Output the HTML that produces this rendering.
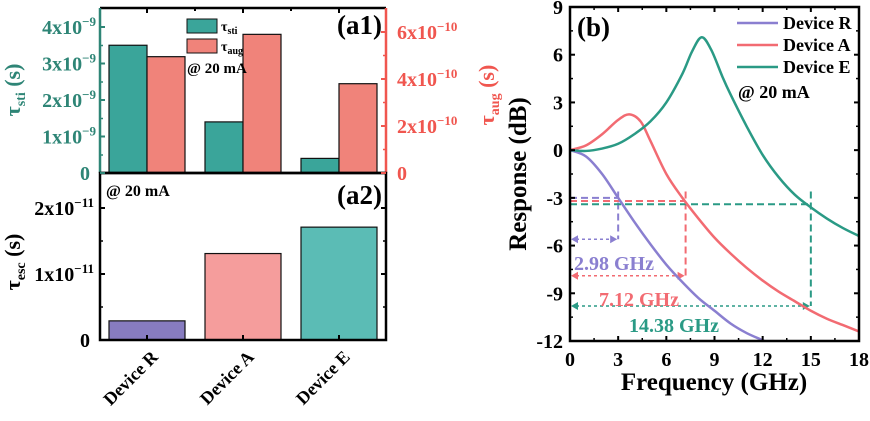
<!DOCTYPE html>
<html><head><meta charset="utf-8"><style>
html,body{margin:0;padding:0;background:#fff;}
svg{display:block;font-family:"Liberation Serif",serif;font-weight:bold;}
</style></head><body>
<svg id="fig" width="870" height="421" viewBox="0 0 870 421" xmlns="http://www.w3.org/2000/svg">
<g id="left"></g><g id="right"></g>
</svg>
<script>
// ----- data -----
const categories = ["Device R","Device A","Device E"];
const tauSti = [3.5e-9, 1.4e-9, 0.4e-9];
const tauAug = [4.95e-10, 5.9e-10, 3.8e-10];
const tauEsc = [0.29e-11, 1.31e-11, 1.71e-11];
const stiTicks = [0,1e-9,2e-9,3e-9,4e-9];
const stiTickLabels = ["0","1x10","2x10","3x10","4x10"];
const augTicks = [0,2e-10,4e-10,6e-10];
const augTickLabels = ["0","2x10","4x10","6x10"];
const escTicks = [0,1e-11,2e-11];
const escTickLabels = ["0","1x10","2x10"];
const freqR = [0,1,2,3,4,5,6,7,8,9,10,11,12,12.3];
const respR = [0,-0.4,-1.5,-3,-4.5,-5.9,-7.2,-8.3,-9.3,-10.1,-10.9,-11.5,-11.95,-12.1];
const freqA = [0,1,2,3,3.7,4.4,5,6,7,8,9,10,11,12,13,14,15,16,17,18];
const respA = [0,0.3,1.0,1.9,2.25,1.8,0.6,-1.5,-3.0,-4.3,-5.5,-6.5,-7.4,-8.2,-8.9,-9.5,-10.1,-10.6,-11.0,-11.4];
const freqE = [0,1,2,3,4,5,6,7,7.6,8.2,8.8,9.5,10,11,12,13,14,15,16,17,18];
const respE = [0,-0.05,0.1,0.4,1.0,1.8,3.0,4.8,6.2,7.1,6.3,4.6,3.5,1.5,-0.3,-1.7,-2.8,-3.6,-4.3,-4.9,-5.4];
const f3dB = [2.98, 7.12, 14.38];
const f3dBPos = [3, 7.2, 15];
const level3dB = [-3.0, -3.2, -3.4];
const arrowLevel = [-5.6, -7.9, -9.8];
const f3dBLabels = ["2.98 GHz","7.12 GHz","14.38 GHz"];
const xTicksB = [0,3,6,9,12,15,18];
const yTicksB = [9,6,3,0,-3,-6,-9,-12];

const NS="http://www.w3.org/2000/svg";
function mk(parent,tag,attrs,text){const e=document.createElementNS(NS,tag);for(const k in attrs)e.setAttribute(k,attrs[k]);if(text!==undefined)e.textContent=text;parent.appendChild(e);return e;}
const L=document.getElementById('left'), R=document.getElementById('right');

// ----- left panels -----
const fx0=100, fx1=386, a1Top=8, a1Bot=173, a2Bot=340;
const catX = i => 147 + i*96;
const yS = v => a1Bot - v/1e-9*36.5;
const yA = v => a1Bot - v/2e-10*47;
const yE = v => a2Bot - v/1e-11*66;
const TEAL="#2e8576", SAL="#f0564f";

categories.forEach((c,i)=>{
  let b=mk(L,'rect',{x:catX(i)-38,y:yS(tauSti[i]),width:38,height:a1Bot-yS(tauSti[i]),fill:"#3aa59a",stroke:"#111","stroke-width":1.2});
  
  b=mk(L,'rect',{x:catX(i),y:yA(tauAug[i]),width:38,height:a1Bot-yA(tauAug[i]),fill:"#f0837a",stroke:"#111","stroke-width":1.2});
  
  const cols=["#877cc0","#f59d9c","#5bbcb5"];
  b=mk(L,'rect',{x:catX(i)-38,y:yE(tauEsc[i]),width:76,height:a2Bot-yE(tauEsc[i]),fill:cols[i],stroke:"#111","stroke-width":1.2});
  
  const t=mk(L,'text',{x:0,y:0,"font-size":18,"text-anchor":"end",transform:`translate(${catX(i)+12},${358}) rotate(-45)`},c);
  
});
// frames
mk(L,'line',{x1:fx0,y1:a1Top,x2:fx1,y2:a1Top,stroke:"#000","stroke-width":2.5});
mk(L,'line',{x1:fx0,y1:a1Bot,x2:fx1,y2:a1Bot,stroke:"#000","stroke-width":2.5});
mk(L,'line',{x1:fx0,y1:a1Top,x2:fx0,y2:a1Bot,stroke:TEAL,"stroke-width":2.5});
mk(L,'line',{x1:fx1,y1:a1Top,x2:fx1,y2:a1Bot,stroke:SAL,"stroke-width":2.5});
mk(L,'rect',{x:fx0,y:a1Bot,width:fx1-fx0,height:a2Bot-a1Bot,fill:"none",stroke:"#000","stroke-width":2.5});
[0,1,2].forEach(i=>{mk(L,'line',{x1:catX(i),y1:a1Top,x2:catX(i),y2:a1Top+5,stroke:"#000","stroke-width":2});
 mk(L,'line',{x1:catX(i),y1:a2Bot,x2:catX(i),y2:a2Bot-5,stroke:"#000","stroke-width":2});});
[195,291].forEach(x=>{mk(L,'line',{x1:x,y1:a1Top,x2:x,y2:a1Top+3,stroke:"#000","stroke-width":2});});
stiTicks.forEach((v,i)=>{const y=yS(v);mk(L,'line',{x1:fx0,y1:y,x2:fx0+5,y2:y,stroke:TEAL,"stroke-width":2});
 if(i<stiTicks.length-1) mk(L,'line',{x1:fx0,y1:y-18,x2:fx0+3,y2:y-18,stroke:TEAL,"stroke-width":1.5});
 const t=mk(L,'text',{x:i?96:90,y:y+7,"font-size":20,fill:TEAL,"text-anchor":"end"},stiTickLabels[i]);
 if(i){mk(t,'tspan',{dy:-8,"font-size":13},"−9");}
});
augTicks.forEach((v,i)=>{const y=yA(v);mk(L,'line',{x1:fx1,y1:y,x2:fx1-5,y2:y,stroke:SAL,"stroke-width":2});
 if(i<augTicks.length-1) mk(L,'line',{x1:fx1,y1:y-23.5,x2:fx1-3,y2:y-23.5,stroke:SAL,"stroke-width":1.5});
 const t=mk(L,'text',{x:397,y:y+7,"font-size":20,fill:SAL},augTickLabels[i]);
 if(i){mk(t,'tspan',{dy:-8,"font-size":13},"−10");}
});
escTicks.forEach((v,i)=>{const y=yE(v);mk(L,'line',{x1:fx0,y1:y,x2:fx0+5,y2:y,stroke:"#000","stroke-width":2});
 mk(L,'line',{x1:fx1,y1:y,x2:fx1-5,y2:y,stroke:"#000","stroke-width":2});
 if(i<2){mk(L,'line',{x1:fx0,y1:y-33,x2:fx0+3,y2:y-33,stroke:"#000","stroke-width":1.5});mk(L,'line',{x1:fx1,y1:y-33,x2:fx1-3,y2:y-33,stroke:"#000","stroke-width":1.5});}
 const t=mk(L,'text',{x:i?94:90,y:y+7,"font-size":20,"text-anchor":"end"},escTickLabels[i]);
 if(i){mk(t,'tspan',{dy:-8,"font-size":13},"−11");}
});
let t=mk(L,'text',{transform:"translate(20,90) rotate(-90)","font-size":22,fill:TEAL,"text-anchor":"middle"});

mk(t,'tspan',{},"τ");mk(t,'tspan',{"font-size":14,dy:5},"sti");mk(t,'tspan',{dy:-5}," (s)");
t=mk(L,'text',{transform:"translate(494,95) rotate(-90)","font-size":22,fill:SAL,"text-anchor":"middle"});

mk(t,'tspan',{},"τ");mk(t,'tspan',{"font-size":14,dy:5},"aug");mk(t,'tspan',{dy:-5}," (s)");
t=mk(L,'text',{transform:"translate(20,262) rotate(-90)","font-size":22,"text-anchor":"middle"});

mk(t,'tspan',{},"τ");mk(t,'tspan',{"font-size":14,dy:5},"esc");mk(t,'tspan',{dy:-5}," (s)");
// legend a1
mk(L,'rect',{x:187,y:19,width:30,height:14,fill:"#3aa59a",stroke:"#111"});
mk(L,'rect',{x:187,y:39,width:30,height:14,fill:"#f0837a",stroke:"#111"});
t=mk(L,'text',{x:221,y:31,"font-size":14});mk(t,'tspan',{},"τ");mk(t,'tspan',{"font-size":10,dy:3},"sti");
t=mk(L,'text',{x:221,y:51,"font-size":14});mk(t,'tspan',{},"τ");mk(t,'tspan',{"font-size":10,dy:3},"aug");
mk(L,'text',{x:187,y:73,"font-size":15},"@ 20 mA");
mk(L,'text',{x:382,y:34,"font-size":27,"text-anchor":"end"},"(a1)");
mk(L,'text',{x:106,y:196,"font-size":16},"@ 20 mA");
mk(L,'text',{x:382,y:204,"font-size":27,"text-anchor":"end"},"(a2)");

// ----- right panel -----
const bx0=570,bx1=859,by0=7,by1=341;
const xB=f=>bx0+f*(bx1-bx0)/18;
const yB=v=>by0+(9-v)*(by1-by0)/21;
const CR="#8a7fd0", CA="#f26b72", CE="#2a9a85";
function smooth(fs,vs){const p=fs.map((f,i)=>[xB(f),yB(vs[i])]);let d=`M${p[0][0]},${p[0][1]}`;
 for(let i=0;i<p.length-1;i++){const p0=p[i-1]||p[i],p1=p[i],p2=p[i+1],p3=p[i+2]||p2;
  d+=` C${p1[0]+(p2[0]-p0[0])/6},${p1[1]+(p2[1]-p0[1])/6} ${p2[0]-(p3[0]-p1[0])/6},${p2[1]-(p3[1]-p1[1])/6} ${p2[0]},${p2[1]}`;}return d;}
mk(R,'defs',{}).innerHTML=`<clipPath id="cb"><rect x="${bx0}" y="${by0}" width="${bx1-bx0}" height="${by1-by0}"/></clipPath>`;
const cg=mk(R,'g',{"clip-path":"url(#cb)"});
const cols=[CR,CA,CE];
[0,1,2].forEach(i=>{
 const c=cols[i], fx=xB(f3dBPos[i]);
 mk(cg,'line',{x1:bx0,y1:yB(level3dB[i]),x2:fx,y2:yB(level3dB[i]),stroke:c,"stroke-width":2,"stroke-dasharray":"7,4"});
 mk(cg,'line',{x1:fx,y1:yB(-2.6),x2:fx,y2:yB(arrowLevel[i]),stroke:c,"stroke-width":2,"stroke-dasharray":"7,4"});
 mk(cg,'line',{x1:bx0+6,y1:yB(arrowLevel[i]),x2:fx-6,y2:yB(arrowLevel[i]),stroke:c,"stroke-width":1.5,"stroke-dasharray":"3,3"});
 const y=yB(arrowLevel[i]);
 mk(cg,'path',{d:`M${bx0+1},${y} l7,-4 v8z M${fx-1},${y} l-7,-4 v8z`,fill:c});
});
[[freqR,respR,CR,'curve-device-r'],[freqA,respA,CA,'curve-device-a'],[freqE,respE,CE,'curve-device-e']].forEach(s=>{
 const p=mk(cg,'path',{d:smooth(s[0],s[1]),fill:"none",stroke:s[2],"stroke-width":2.5});
 
});
mk(R,'text',{x:574,y:270,"font-size":20,fill:CR},f3dBLabels[0]);
mk(R,'text',{x:599,y:306,"font-size":20,fill:CA},f3dBLabels[1]);
mk(R,'text',{x:629,y:332,"font-size":20,fill:CE},f3dBLabels[2]);
mk(R,'rect',{x:bx0,y:by0,width:bx1-bx0,height:by1-by0,fill:"none",stroke:"#000","stroke-width":2.5});
xTicksB.forEach(f=>{const x=xB(f);mk(R,'line',{x1:x,y1:by1,x2:x,y2:by1-5,stroke:"#000","stroke-width":2});
 mk(R,'line',{x1:x,y1:by0,x2:x,y2:by0+5,stroke:"#000","stroke-width":2});
 if(f<18){mk(R,'line',{x1:xB(f+1.5),y1:by1,x2:xB(f+1.5),y2:by1-3,stroke:"#000","stroke-width":1.5});mk(R,'line',{x1:xB(f+1.5),y1:by0,x2:xB(f+1.5),y2:by0+3,stroke:"#000","stroke-width":1.5});}
 const t=mk(R,'text',{x:x,y:366,"font-size":20,"text-anchor":"middle"},String(f));});
yTicksB.forEach(v=>{const y=yB(v);mk(R,'line',{x1:bx0,y1:y,x2:bx0+5,y2:y,stroke:"#000","stroke-width":2});
 mk(R,'line',{x1:bx1,y1:y,x2:bx1-5,y2:y,stroke:"#000","stroke-width":2});
 if(v>-12){mk(R,'line',{x1:bx0,y1:yB(v-1.5),x2:bx0+3,y2:yB(v-1.5),stroke:"#000","stroke-width":1.5});mk(R,'line',{x1:bx1,y1:yB(v-1.5),x2:bx1-3,y2:yB(v-1.5),stroke:"#000","stroke-width":1.5});}
 const t=mk(R,'text',{x:563,y:y+7,"font-size":20,"text-anchor":"end"},String(v));});
t=mk(R,'text',{x:714,y:390,"font-size":25,"text-anchor":"middle"},"Frequency (GHz)");

t=mk(R,'text',{transform:"translate(526,174) rotate(-90)","font-size":25,"text-anchor":"middle"},"Response (dB)");

mk(R,'text',{x:577,y:36,"font-size":27},"(b)");
["Device R","Device A","Device E"].forEach((n,i)=>{const y=23+i*22;
 const l=mk(R,'line',{x1:737,y1:y,x2:778,y2:y,stroke:cols[i],"stroke-width":2.5});
 
 const t=mk(R,'text',{x:783,y:y+6,"font-size":18},n);});
mk(R,'text',{x:738,y:98,"font-size":18},"@ 20 mA");
</script>
</body></html>
